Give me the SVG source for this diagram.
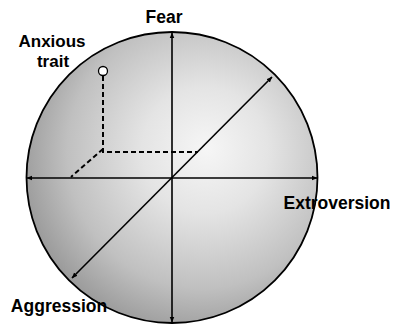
<svg xmlns="http://www.w3.org/2000/svg" width="399" height="325" viewBox="0 0 399 325">
<defs>
<radialGradient id="bg" cx="0.6" cy="0.42" r="0.62" fx="0.62" fy="0.4">
<stop offset="0" stop-color="#f6f6f6"/>
<stop offset="0.35" stop-color="#e4e4e4"/>
<stop offset="0.75" stop-color="#c0c0c0"/>
<stop offset="1" stop-color="#9c9c9c"/>
</radialGradient>
<marker id="ah" viewBox="0 0 10 10" refX="9" refY="5" markerWidth="6" markerHeight="6" orient="auto-start-reverse" markerUnits="userSpaceOnUse">
<path d="M0,1 L10,5 L0,9 z" fill="#000"/>
</marker>
</defs>
<style>
.ax{stroke:#000;stroke-width:1.6;fill:none}
.dash{stroke:#000;stroke-width:2;fill:none;stroke-dasharray:5 3}
.lbl{font-family:"Liberation Sans",Arial,sans-serif;font-weight:bold;font-size:17.5px;fill:#000}
.sm{font-size:17px}
</style>
<g id="sphere">
<circle cx="172" cy="177.5" r="145.5" fill="url(#bg)" stroke="#000" stroke-width="1.8"/>
</g>
<g id="connectors">
<line class="ax" x1="172" y1="322" x2="172" y2="33" marker-start="url(#ah)" marker-end="url(#ah)"/>
<line class="ax" x1="317" y1="178" x2="27" y2="178" marker-start="url(#ah)" marker-end="url(#ah)"/>
<line class="ax" x1="72" y1="278" x2="272" y2="77" marker-start="url(#ah)" marker-end="url(#ah)"/>
<polyline class="dash" points="103,76 103,152 198,152"/>
<line class="dash" x1="103" y1="149" x2="71" y2="177"/>
</g>
<g id="anxious-trait">
<circle cx="103" cy="71" r="4.5" fill="#fff" stroke="#000" stroke-width="1.3"/>
<text class="lbl sm" x="52" y="47" text-anchor="middle">Anxious</text>
<text class="lbl sm" x="53" y="67" text-anchor="middle">trait</text>
</g>
<g id="fear"><text class="lbl" x="164" y="23" text-anchor="middle">Fear</text></g>
<g id="extroversion"><text class="lbl" x="337" y="209" text-anchor="middle">Extroversion</text></g>
<g id="aggression"><text class="lbl" x="59" y="312" text-anchor="middle">Aggression</text></g>
</svg>
